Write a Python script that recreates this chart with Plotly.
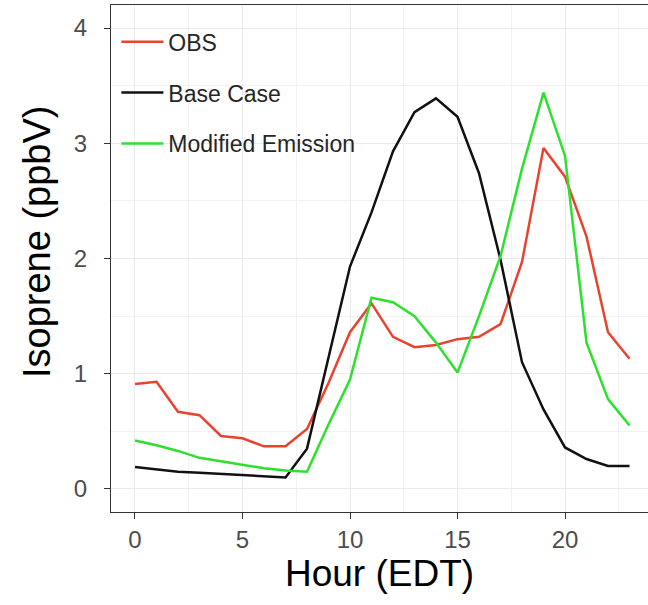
import plotly.graph_objects as go

hours = list(range(24))
obs = [0.91, 0.93, 0.67, 0.64, 0.46, 0.44, 0.37, 0.37, 0.52, 0.92, 1.36, 1.61,
       1.32, 1.23, 1.25, 1.30, 1.32, 1.43, 1.97, 2.96, 2.71, 2.19, 1.36, 1.13]
base_case = [0.19, 0.17, 0.15, 0.14, 0.13, 0.12, 0.11, 0.10, 0.35, 1.15, 1.93, 2.40,
             2.93, 3.27, 3.39, 3.23, 2.74, 1.99, 1.10, 0.69, 0.36, 0.26, 0.20, 0.20]
modified = [0.42, 0.38, 0.33, 0.27, 0.24, 0.21, 0.18, 0.16, 0.15, 0.56, 0.95, 1.66,
            1.62, 1.50, 1.27, 1.01, 1.50, 2.02, 2.78, 3.44, 2.89, 1.27, 0.78, 0.55]

series = [("OBS", obs, "#e8432e"), ("Base Case", base_case, "#111111"),
          ("Modified Emission", modified, "#2ee02e")]

fig = go.Figure()
for i, (name, vals, col) in enumerate(series):
    fig.add_trace(go.Scatter(x=hours, y=vals, mode="lines", name=name,
                             legendgroup=name,
                             line=dict(color=col, width=2.5)))

axis_common = dict(
    showgrid=True, gridcolor="#ebebeb", gridwidth=1.2,
    zeroline=False, showline=True, linecolor="#333333", linewidth=1.2,
    ticks="outside", ticklen=6, tickcolor="#333333", tickwidth=1.2,
    tickfont=dict(family="Liberation Sans", size=24, color="#4d4d4d"),
)

fig.update_layout(
    width=648, height=605,
    margin=dict(l=111, r=0, t=5, b=93),
    paper_bgcolor="white", plot_bgcolor="white",
    font=dict(family="Liberation Sans"),
    showlegend=True,
    legend=dict(x=0.01, y=0.97, xanchor="left", yanchor="top",
                bgcolor="rgba(0,0,0,0)", tracegroupgap=18, itemwidth=42,
                font=dict(family="Liberation Sans", size=23, color="#262626")),
    xaxis=dict(range=[-1.116, 23.86], tickvals=[0, 5, 10, 15, 20],
               mirror=True,
               minor=dict(tickvals=[2.5, 7.5, 12.5, 17.5, 22.5], showgrid=True,
                          gridcolor="#f2f2f2", gridwidth=0.8, ticks=""),
               title=dict(text="Hour (EDT)", standoff=8,
                          font=dict(family="Liberation Sans", size=37, color="black")),
               **axis_common),
    yaxis=dict(range=[-0.2, 4.2], tickvals=[0, 1, 2, 3, 4],
               ticklabelstandoff=12,
               minor=dict(tickvals=[0.5, 1.5, 2.5, 3.5], showgrid=True,
                          gridcolor="#f2f2f2", gridwidth=0.8, ticks=""),
               **axis_common),
    annotations=[dict(text="Isoprene (ppbV)", textangle=-90, showarrow=False,
                      xref="paper", yref="paper",
                      x=(37 - 111) / 537, y=(512 - 242) / 507,
                      xanchor="center", yanchor="middle",
                      font=dict(family="Liberation Sans", size=38, color="black"))],
)

fig.write_html("out.html", config={"displayModeBar": False},
               post_script="document.body.style.margin='0';")
